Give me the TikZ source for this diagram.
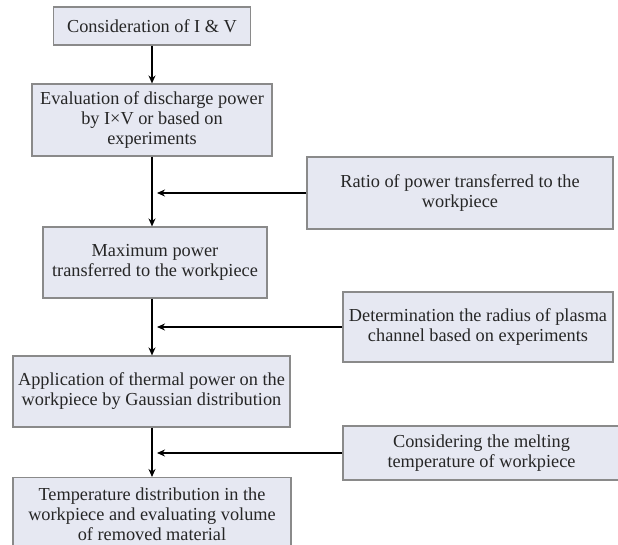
\documentclass[tikz,border=0pt]{standalone}
\usepackage{fontspec}
\setmainfont{Liberation Serif}
\usetikzlibrary{arrows.meta}
\definecolor{boxfill}{HTML}{E6E8F2}
\definecolor{boxline}{HTML}{8A8A8A}
\definecolor{txt}{HTML}{262626}
\tikzset{
  stepbox/.style={draw=boxline, line width=1.1pt, fill=boxfill, text=txt,
    align=center, inner sep=0pt, font=\fontsize{18.3}{20}\selectfont},
  arr/.style={line width=1.8pt, -{Stealth[length=8pt,width=7pt]}}
}
\begin{document}
\begin{tikzpicture}[x=1pt,y=-1pt]
\useasboundingbox (0,0) rectangle (618,545);
\clip (0,0) rectangle (618,545);
\node[stepbox, minimum width=197pt, minimum height=38pt] (c1) at (152,26) {Consideration of I \& V};
\node[stepbox, minimum width=240pt, minimum height=72pt] (c2) at (152,120) {Evaluation of discharge power\\by I×V or based on\\experiments};
\node[stepbox, minimum width=306pt, minimum height=72pt] (r1) at (460,193) {Ratio of power transferred to the\\workpiece};
\node[stepbox, minimum width=224pt, minimum height=71pt] (c3) at (155,262.5) {Maximum power\\transferred to the workpiece};
\node[stepbox, minimum width=270pt, minimum height=70pt] (r2) at (478,327) {Determination the radius of plasma\\channel based on experiments};
\node[stepbox, minimum width=277pt, minimum height=71pt] (c4) at (151.5,391.5) {Application of thermal power on the\\workpiece by Gaussian distribution};
\node[stepbox, minimum width=277pt, minimum height=54pt] (r3) at (481.5,453) {Considering the melting\\temperature of workpiece};
\node[stepbox, minimum width=278pt, minimum height=74pt, anchor=north] (c5) at (152,477) {Temperature distribution in the\\workpiece and evaluating volume\\of removed material};
\coordinate (t1) at (157,193);
\coordinate (t2) at (157,327);
\coordinate (t3) at (157,453);
\draw[arr] (c1.south) -- (c1.south |- c2.north);
\draw[arr] (c2.south) -- (c2.south |- c3.north);
\draw[arr] (c2.south |- c3.south) -- (c2.south |- c4.north);
\draw[arr] (c2.south |- c4.south) -- (c2.south |- c5.north);
\draw[arr] (r1.west) -- (t1);
\draw[arr] (r2.west) -- (t2);
\draw[arr] (r3.west) -- (t3);
\end{tikzpicture}
\end{document}
